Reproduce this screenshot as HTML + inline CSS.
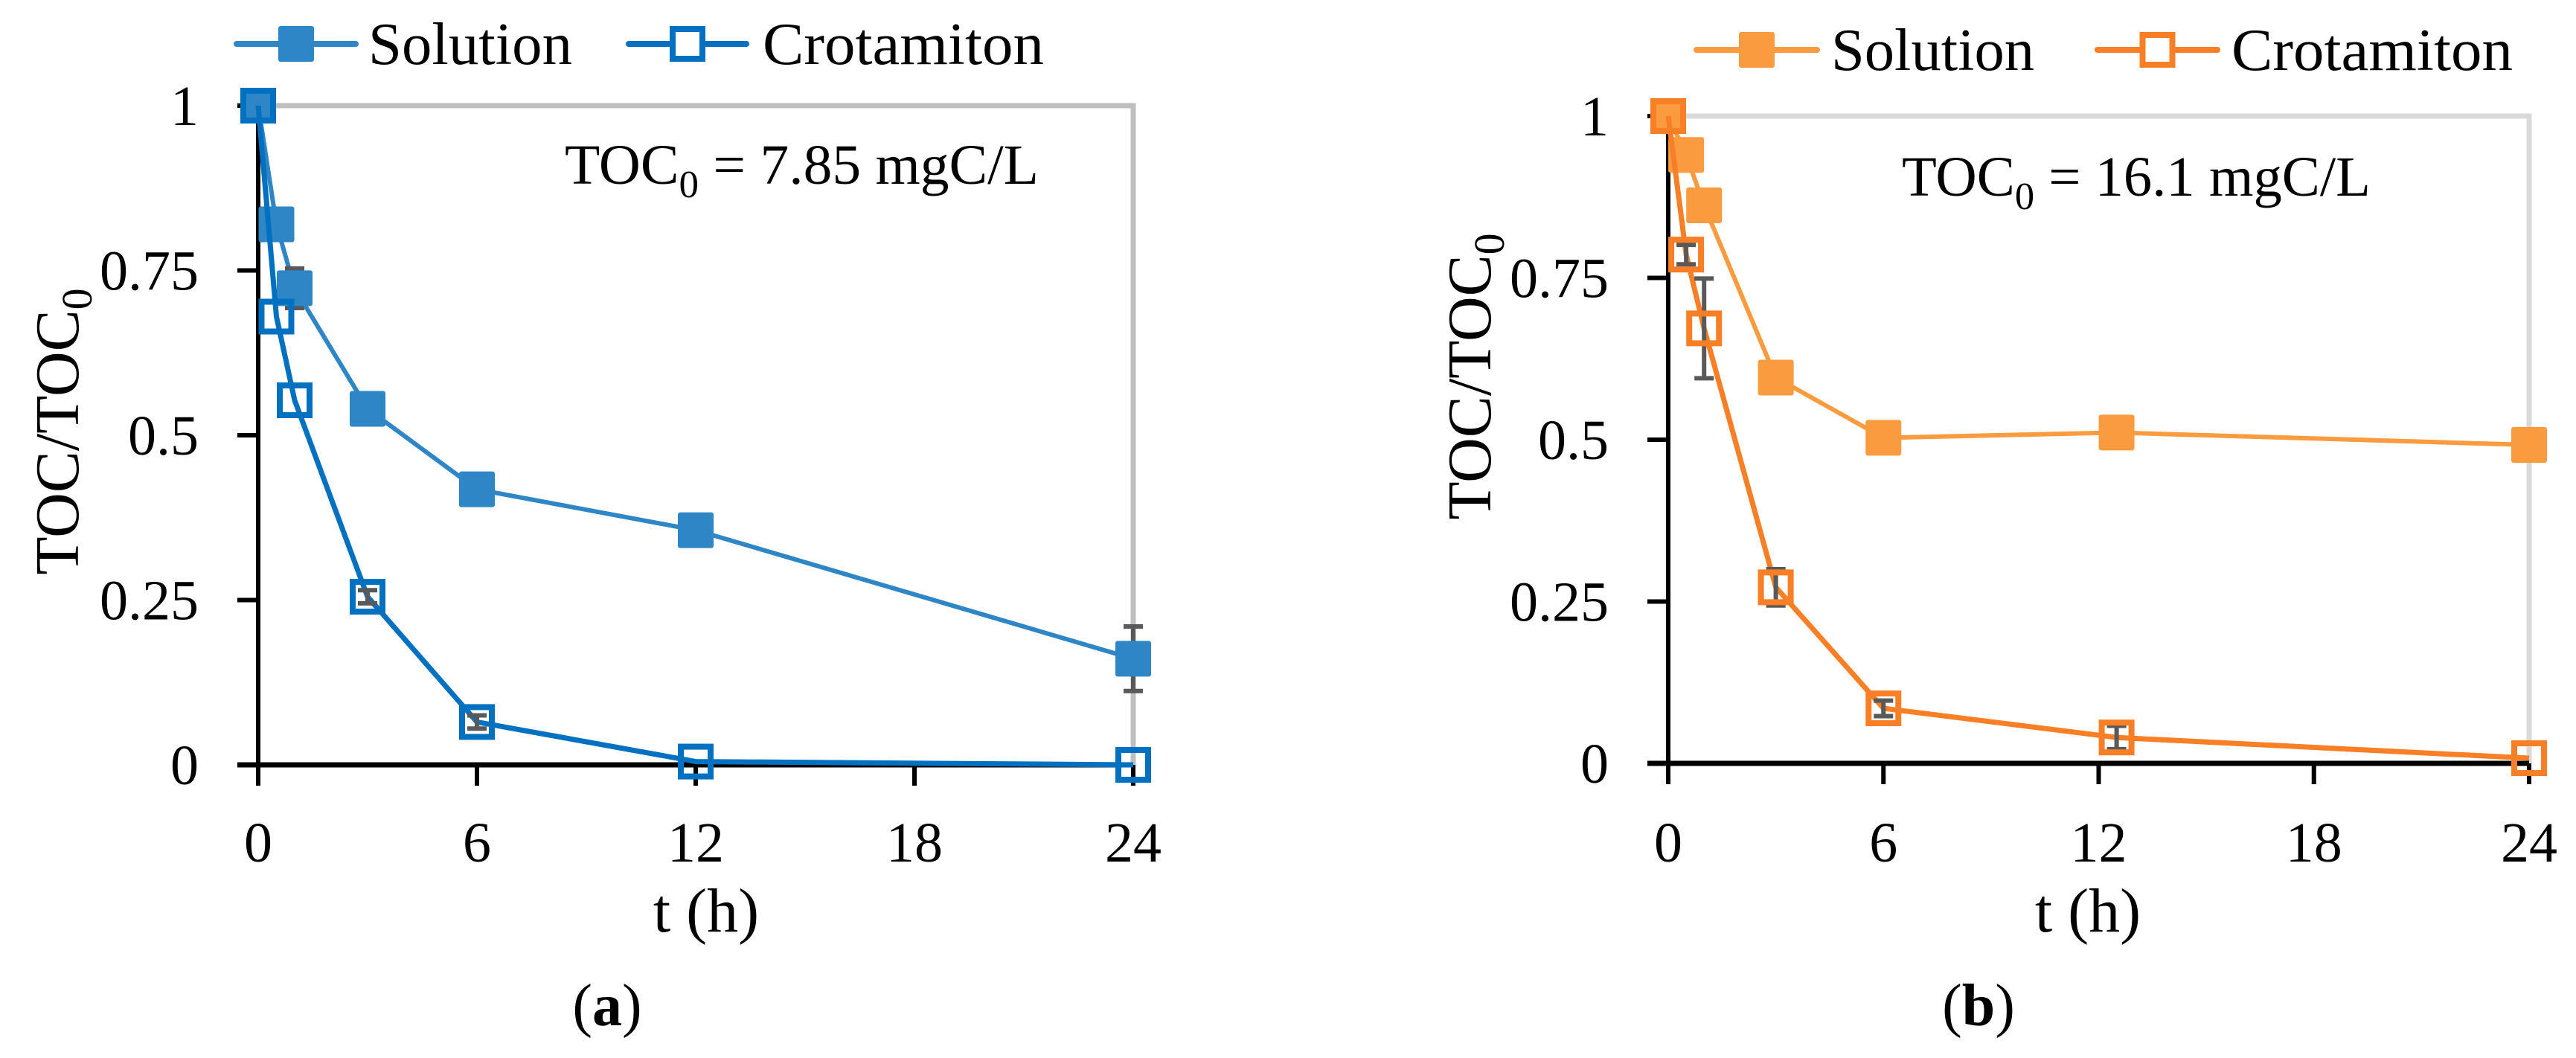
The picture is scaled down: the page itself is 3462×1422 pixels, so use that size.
<!DOCTYPE html>
<html><head><meta charset="utf-8"><title>TOC removal</title>
<style>html,body{margin:0;padding:0;background:#fff}svg{display:block}text{font-family:"Liberation Serif",serif;fill:#000}</style>
</head><body>
<svg id="chart" width="3462" height="1422" viewBox="0 0 3462 1422" xmlns="http://www.w3.org/2000/svg"></svg>
<script>
const times = [0, 0.5, 1, 3, 6, 12, 24];
const timesB = [0, 0.5, 1, 3, 6, 12.5, 24];
const xTicks = [0, 6, 12, 18, 24];
const yTicks = [0, 0.25, 0.5, 0.75, 1];
const yTickLabels = ["0", "0.25", "0.5", "0.75", "1"];
const solA = [1, 0.82, 0.723, 0.54, 0.418, 0.356, 0.161];
const solAErr = [0, 0, 0.03, 0, 0, 0, 0.049];
const croA = [1, 0.68, 0.553, 0.255, 0.065, 0.005, 0];
const croAErr = [0, 0, 0, 0.01, 0.01, 0, 0];
const solB = [1, 0.94, 0.862, 0.596, 0.503, 0.511, 0.492];
const solBErr = [0, 0, 0, 0, 0, 0, 0];
const croB = [1, 0.786, 0.672, 0.272, 0.085, 0.04, 0.008];
const croBErr = [0, 0.015, 0.077, 0.028, 0.012, 0.018, 0];
const NS = "http://www.w3.org/2000/svg";
const svg = document.getElementById('chart');
function mk(tag, attrs, parent, text) {
  const e = document.createElementNS(NS, tag);
  for (const k in attrs) e.setAttribute(k, attrs[k]);
  if (text !== undefined) e.textContent = text;
  (parent || svg).appendChild(e);
  return e;
}
function panel(cfg) {
  const g = mk('g', {});
  
  
  const X = t => cfg.x0 + (cfg.x1 - cfg.x0) * t / 24;
  const Y = v => cfg.y0 - (cfg.y0 - cfg.y1) * v;
  const fr = mk('path', {d:`M${X(0)} ${Y(1)} H${X(24)} V${Y(0)}`, fill:'none', stroke:cfg.frame, 'stroke-width':7}, g);
  
  
  yTicks.forEach((v, i) => {
    const tk = mk('line', {x1:X(0)-28, x2:X(0), y1:Y(v), y2:Y(v), stroke:'#000', 'stroke-width':6}, g);
    
    
    const lb = mk('text', {x:X(0)-80, y:Y(v)+26, 'text-anchor':'end', 'font-size':76}, g, yTickLabels[i]);
    
    
  });
  xTicks.forEach(t => {
    const tk = mk('line', {x1:X(t), x2:X(t), y1:Y(0), y2:Y(0)+28, stroke:'#000', 'stroke-width':6}, g);
    
    
    const lb = mk('text', {x:X(t), y:1158, 'text-anchor':'middle', 'font-size':76}, g, String(t));
    
    
  });
  const ya = mk('line', {x1:X(0), x2:X(0), y1:Y(1), y2:Y(0)+3, stroke:'#000', 'stroke-width':6}, g);
  
  
  const xa = mk('line', {x1:X(0)-28, x2:X(24), y1:Y(0), y2:Y(0), stroke:'#000', 'stroke-width':7}, g);
  
  
  cfg.series.forEach(s => {
    const sg = mk('g', {}, g);
    
    
    const pts = s.vals.map((v, i) => X(s.t[i]) + ',' + Y(v)).join(' ');
    const pl = mk('polyline', {points:pts, fill:'none', stroke:s.color, 'stroke-width':s.lw, 'stroke-linejoin':'round'}, sg);
    
    
    s.vals.forEach((v, i) => {
      const cx = X(s.t[i]), cy = Y(v), e = s.err[i];
      if (e > 0) {
        const eb = mk('path', {d:`M${cx} ${Y(v+e)} V${Y(v-e)} M${cx-13} ${Y(v+e)} H${cx+13} M${cx-13} ${Y(v-e)} H${cx+13}`, stroke:'#595959', 'stroke-width':6, fill:'none'}, sg);
        
        
      }
      const m = s.filled
        ? mk('rect', {x:cx-24, y:cy-24, width:48, height:48, rx:3, fill:s.color}, sg)
        : mk('rect', {x:cx-20, y:cy-20, width:40, height:40, fill:'none', stroke:s.color, 'stroke-width':8}, sg);
      
      
    });
  });
  cfg.series.forEach((s, k) => {
    const L = cfg.legend[k];
    const lg = mk('g', {}, g);
    
    
    mk('line', {x1:L.l0, x2:L.l1, y1:L.y, y2:L.y, stroke:s.color, 'stroke-width':8, 'stroke-linecap':'round'}, lg);
    const cx = (L.l0 + L.l1) / 2;
    if (s.filled) mk('rect', {x:cx-24, y:L.y-24, width:48, height:48, rx:3, fill:s.color}, lg);
    else mk('rect', {x:cx-20, y:L.y-20, width:40, height:40, fill:'#fff', stroke:s.color, 'stroke-width':8}, lg);
    mk('text', {x:L.tx, y:L.y+27, 'font-size':80, textLength:L.tw, lengthAdjust:'spacingAndGlyphs'}, lg, s.label);
  });
  const an = mk('text', {x:cfg.ann.x, y:cfg.ann.y, 'font-size':76, textLength:cfg.ann.w, lengthAdjust:'spacingAndGlyphs'}, g);
  
  
  mk('tspan', {}, an, 'TOC');
  mk('tspan', {dy:18, 'font-size':52}, an, '0');
  mk('tspan', {dy:-18}, an, ' = ' + cfg.ann.val);
  const yt = mk('text', {x:0, y:0, 'font-size':84, 'text-anchor':'middle', transform:`translate(${cfg.yt.x},${cfg.yt.y}) rotate(-90)`}, g);
  
  
  mk('tspan', {}, yt, 'TOC/TOC');
  mk('tspan', {dy:18, 'font-size':58}, yt, '0');
  const xt = mk('text', {x:cfg.xt, y:1252, 'font-size':84, 'text-anchor':'middle'}, g, 't (h)');
  
  
  const cap = mk('text', {x:cfg.cap.x, y:1378, 'font-size':80, 'text-anchor':'middle'}, g);
  
  
  mk('tspan', {}, cap, '(');
  mk('tspan', {'font-weight':'bold'}, cap, cfg.cap.t);
  mk('tspan', {}, cap, ')');
}
panel({name:'panel-a', x0:347, x1:1523, y0:1028, y1:142, frame:'#bfbfbf',
  series:[
    {name:'series-solution-a', label:'Solution', t:times, vals:solA, err:solAErr, color:'#2e86c6', filled:true, lw:6},
    {name:'series-crotamiton-a', label:'Crotamiton', t:times, vals:croA, err:croAErr, color:'#0070c0', filled:false, lw:7}],
  legend:[{l0:318,l1:478,y:59,tx:495,tw:274},{l0:845,l1:1003,y:59,tx:1025,tw:378}],
  ann:{x:759, y:247, w:637, val:'7.85 mgC/L'}, yt:{x:105, y:580}, xt:949, cap:{x:816, t:'a'}});
panel({name:'panel-b', x0:2242, x1:3399, y0:1026, y1:156, frame:'#d9d9d9',
  series:[
    {name:'series-solution-b', label:'Solution', t:timesB, vals:solB, err:solBErr, color:'#fb9b3f', filled:true, lw:6},
    {name:'series-crotamiton-b', label:'Crotamiton', t:timesB, vals:croB, err:croBErr, color:'#f87f26', filled:false, lw:7}],
  legend:[{l0:2280,l1:2442,y:67,tx:2461,tw:273},{l0:2819,l1:2980,y:67,tx:2999,tw:378}],
  ann:{x:2556, y:263, w:630, val:'16.1 mgC/L'}, yt:{x:2003, y:506}, xt:2806, cap:{x:2659, t:'b'}});
</script>
</body></html>
